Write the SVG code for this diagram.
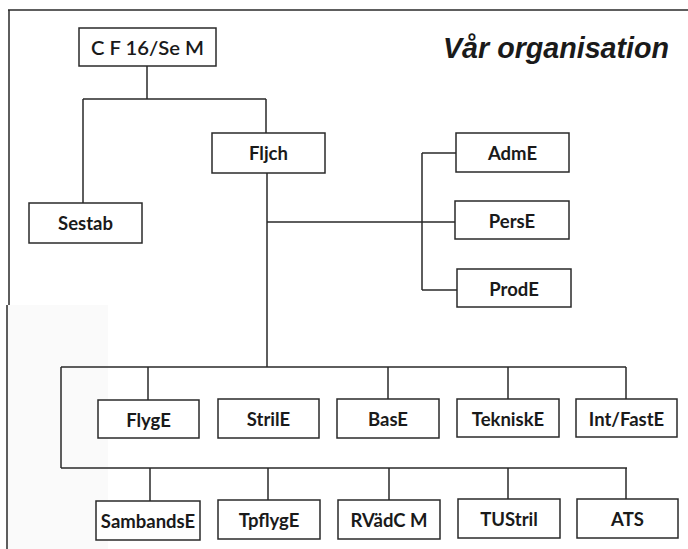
<svg xmlns="http://www.w3.org/2000/svg" width="688" height="549" viewBox="0 0 688 549">
<style>
.box{fill:#fff;stroke:#2a2a2a;stroke-width:1.5}
.lbl{font-family:Lato,"Liberation Sans",sans-serif;font-weight:bold;font-size:18.5px;fill:#1a1a1a;text-anchor:middle}
.ln{stroke:#2a2a2a;stroke-width:1.5;fill:none}
.title{font-family:"Liberation Sans",Arial,sans-serif;font-weight:bold;font-style:italic;font-size:30px;fill:#1a1a1a}
</style>
<rect x="0" y="0" width="688" height="549" fill="#fff"/>
<rect x="8" y="305" width="100" height="244" fill="#fafafa"/>
<g id="frame" class="ln">
<path d="M8 10H688M9 10V305M7 305V549"/>
</g>
<text class="title" x="443" y="58" textLength="226" lengthAdjust="spacingAndGlyphs">Vår organisation</text>
<g id="connectors" class="ln">
<path d="M147 66V99M83 99H266M83 99V203M266 99V133"/>
<path d="M267 173V367M267 222H455"/>
<path d="M422 153V290M422 153H456M422 290H457"/>
<path d="M61 367H626M61 367V468M61 468H627"/>
<path d="M148 367V400M388 367V399M508 367V399M626 367V399"/>
<path d="M150 468V501M268 468V500M389 468V500M508 468V499M626 468V499"/>
</g>
<g id="cf16"><rect class="box" x="79" y="28" width="137" height="38"/><text class="lbl" x="147.5" y="55" style="font-weight:600" textLength="113" lengthAdjust="spacingAndGlyphs">C F 16/Se M</text></g>
<g id="fljch"><rect class="box" x="212" y="133" width="113" height="40"/><text class="lbl" x="268.5" y="160">Fljch</text></g>
<g id="sestab"><rect class="box" x="29" y="203" width="113" height="40"/><text class="lbl" x="85.5" y="230">Sestab</text></g>
<g id="adme"><rect class="box" x="456" y="133" width="113" height="39"/><text class="lbl" x="512.5" y="160">AdmE</text></g>
<g id="perse"><rect class="box" x="455" y="201" width="114" height="38"/><text class="lbl" x="512" y="228">PersE</text></g>
<g id="prode"><rect class="box" x="457" y="269" width="114" height="38"/><text class="lbl" x="514" y="296">ProdE</text></g>
<g id="flyge"><rect class="box" x="98" y="400" width="101" height="38"/><text class="lbl" x="148.5" y="427">FlygE</text></g>
<g id="strile"><rect class="box" x="218" y="399" width="101" height="39"/><text class="lbl" x="268.5" y="426">StrilE</text></g>
<g id="base"><rect class="box" x="337" y="399" width="102" height="39"/><text class="lbl" x="388" y="426">BasE</text></g>
<g id="tekniske"><rect class="box" x="457" y="399" width="102" height="38"/><text class="lbl" x="508" y="426">TekniskE</text></g>
<g id="intfaste"><rect class="box" x="576" y="399" width="101" height="38"/><text class="lbl" x="626.5" y="426">Int/FastE</text></g>
<g id="sambandse"><rect class="box" x="96" y="501" width="104" height="39"/><text class="lbl" x="148" y="528">SambandsE</text></g>
<g id="tpflyge"><rect class="box" x="218" y="500" width="102" height="39"/><text class="lbl" x="269" y="527">TpflygE</text></g>
<g id="rvadcm"><rect class="box" x="338" y="500" width="102" height="39"/><text class="lbl" x="389" y="527">RVädC M</text></g>
<g id="tustril"><rect class="box" x="458" y="499" width="102" height="39"/><text class="lbl" x="509" y="526">TUStril</text></g>
<g id="ats"><rect class="box" x="577" y="499" width="101" height="39"/><text class="lbl" x="627.5" y="526">ATS</text></g>
</svg>
